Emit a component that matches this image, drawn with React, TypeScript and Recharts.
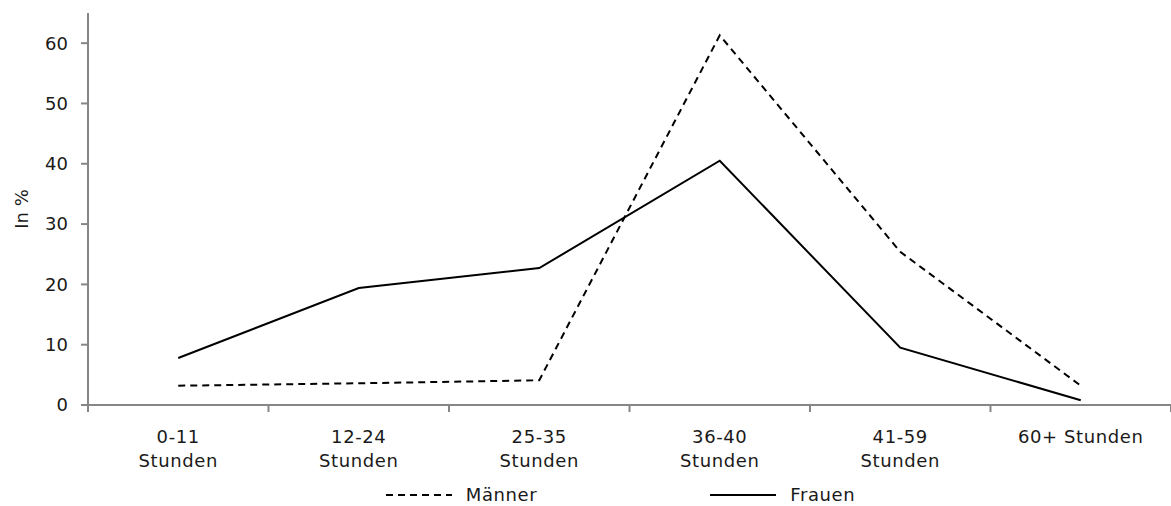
import { LineChart, Line, XAxis, YAxis, Legend } from "recharts";

const categories = [
  "0-11\nStunden",
  "12-24\nStunden",
  "25-35\nStunden",
  "36-40\nStunden",
  "41-59\nStunden",
  "60+ Stunden",
];
const maenner = [3.2, 3.6, 4.1, 61.3, 25.4, 3.2];
const frauen = [7.8, 19.4, 22.7, 40.5, 9.5, 0.8];
const yTicks = [0, 10, 20, 30, 40, 50, 60];

const data = categories.map((c, i) => ({
  pos: i + 0.5,
  label: c,
  maenner: maenner[i],
  frauen: frauen[i],
}));
const boundaryTicks = categories.map((_, i) => i).concat(categories.length);
const centerTicks = data.map((d) => d.pos);

const font = "DejaVu Sans";
const fontSize = 18;
const spacing = 0.6;
const axisGray = "#868686";
const textColor = "#1a1a1a";

function CategoryTick(props: any) {
  const { x, y, payload } = props;
  const idx = Math.floor(payload.value);
  const lines = categories[idx].split("\n");
  return (
    <text
      x={x}
      y={y}
      textAnchor="middle"
      fill={textColor}
      fontSize={fontSize}
      fontFamily={font}
      letterSpacing={spacing}
    >
      {lines.map((l, k) => (
        <tspan key={k} x={x} dy={k === 0 ? 30 : 24}>
          {l}
        </tspan>
      ))}
    </text>
  );
}

function LegendContent() {
  const items = [
    { name: "Männer", dash: "7 5" },
    { name: "Frauen", dash: undefined },
  ];
  return (
    <div
      style={{
        display: "flex",
        justifyContent: "center",
        gap: 173,
        paddingTop: 10,
        height: 23,
        fontFamily: font,
        fontSize: fontSize,
        letterSpacing: spacing,
        color: textColor,
        paddingLeft: 70,
      }}
    >
      {items.map((it) => (
        <div key={it.name} style={{ display: "flex", alignItems: "center" }}>
          <svg width={66} height={10} style={{ marginRight: 14 }}>
            <line x1={0} y1={5} x2={66} y2={5} stroke="#000" strokeWidth={2} strokeDasharray={it.dash} />
          </svg>
          <span>{it.name}</span>
        </div>
      ))}
    </div>
  );
}

export default function App() {
  return (
    <div style={{ position: "absolute", left: 0, top: 0, background: "#fff" }}>
      <LineChart width={1171} height={506} data={data} margin={{ top: 13, right: 0, bottom: 0, left: 0 }}>
        <XAxis
          xAxisId="bounds"
          dataKey="pos"
          type="number"
          domain={[0, categories.length]}
          ticks={boundaryTicks}
          tick={() => <g />}
          tickSize={7}
          height={8}
          stroke={axisGray}
          strokeWidth={2}
        />
        <XAxis
          xAxisId="labels"
          dataKey="pos"
          type="number"
          domain={[0, categories.length]}
          ticks={centerTicks}
          tick={<CategoryTick />}
          tickLine={false}
          axisLine={false}
          tickSize={0}
          tickMargin={0}
          height={60}
        />
        <YAxis
          type="number"
          domain={[0, 65]}
          ticks={yTicks}
          width={88}
          tickSize={7}
          tickMargin={13}
          stroke={axisGray}
          strokeWidth={2}
          tick={{ fill: textColor, fontSize: fontSize, fontFamily: font }}
          label={{
            value: "In %",
            angle: -90,
            position: "insideLeft",
            offset: 22,
            style: { textAnchor: "middle", fill: textColor, fontSize: fontSize, fontFamily: font },
          }}
        />
        <Legend verticalAlign="bottom" content={<LegendContent />} />
        <Line
          xAxisId="bounds"
          dataKey="maenner"
          name="Männer"
          stroke="#000"
          strokeWidth={2}
          strokeDasharray="7 5"
          dot={false}
          isAnimationActive={false}
        />
        <Line
          xAxisId="bounds"
          dataKey="frauen"
          name="Frauen"
          stroke="#000"
          strokeWidth={2}
          dot={false}
          isAnimationActive={false}
        />
      </LineChart>
    </div>
  );
}
